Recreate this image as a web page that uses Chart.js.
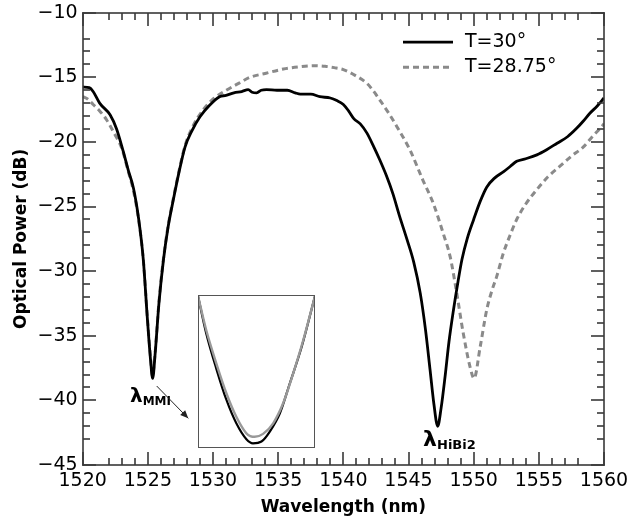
<!DOCTYPE html>
<html>
<head>
<meta charset="utf-8">
<script src="https://cdn.jsdelivr.net/npm/chart.js@4/dist/chart.umd.min.js"></script>
<style>
  html, body { margin: 0; padding: 0; background: #fff; }
  #wrap { position: relative; width: 630px; height: 527px; }
  #insetBox { position: absolute; left: 198px; top: 295px; width: 117px; height: 153px; }
</style>
</head>
<body>
<div id="wrap">
  <canvas id="main" width="630" height="527"></canvas>
  <div id="insetBox"><canvas id="inset" width="117" height="153"></canvas></div>
</div>
<script>
// ---- Spectrum at T = 30° (solid black)
const wavelength30 = [1520.0,1520.5,1520.8,1521.3,1522.1,1522.6,1523.1,1523.5,1523.9,1524.3,1524.65,1524.95,1525.2,1525.37,1525.55,1525.85,1526.2,1526.55,1526.95,1527.4,1527.85,1528.4,1529.0,1529.7,1530.5,1531.0,1531.6,1532.2,1532.7,1533.0,1533.35,1533.7,1534.1,1534.9,1535.7,1536.3,1536.7,1537.5,1538.2,1539.0,1539.5,1540.0,1540.4,1540.8,1541.3,1541.8,1542.3,1542.8,1543.3,1543.8,1544.3,1544.9,1545.4,1545.9,1546.3,1546.65,1546.95,1547.24,1547.5,1547.8,1548.1,1548.45,1548.8,1549.1,1549.5,1550.0,1550.5,1551.0,1551.6,1552.3,1552.8,1553.3,1554.0,1554.85,1555.6,1556.4,1557.2,1557.9,1558.4,1558.9,1559.5,1560.0];
const power30 = [-15.75,-15.8,-16.1,-17.0,-17.9,-19.0,-20.7,-22.2,-23.6,-26.0,-29.1,-33.5,-36.8,-38.3,-36.5,-32.5,-29.1,-26.6,-24.5,-22.3,-20.4,-19.1,-18.05,-17.2,-16.5,-16.4,-16.2,-16.1,-15.95,-16.15,-16.2,-16.0,-15.95,-16.0,-16.0,-16.2,-16.3,-16.3,-16.5,-16.6,-16.8,-17.1,-17.6,-18.2,-18.6,-19.3,-20.3,-21.4,-22.6,-24.0,-25.7,-27.6,-29.3,-31.7,-34.5,-37.6,-40.3,-42.0,-40.6,-38.2,-35.5,-33.0,-30.8,-29.1,-27.5,-26.0,-24.6,-23.5,-22.8,-22.3,-21.9,-21.5,-21.3,-21.0,-20.6,-20.1,-19.6,-18.95,-18.4,-17.8,-17.2,-16.6];

// ---- Spectrum at T = 28.75° (dashed grey)
const wavelength2875 = [1520.0,1520.4,1520.8,1521.3,1521.84,1522.4,1523.0,1523.5,1523.9,1524.3,1524.65,1524.95,1525.2,1525.35,1525.55,1525.85,1526.2,1526.55,1526.95,1527.4,1527.85,1528.4,1529.25,1530.1,1531.05,1532.0,1532.84,1534.0,1535.4,1536.5,1537.7,1538.6,1539.3,1540.0,1540.9,1541.8,1542.3,1542.8,1543.5,1544.1,1545.1,1546.1,1546.9,1547.67,1548.2,1548.7,1549.2,1549.72,1550.03,1550.5,1551.0,1551.4,1551.77,1552.28,1552.8,1553.3,1554.0,1554.84,1555.7,1556.6,1557.5,1558.4,1559.1,1559.7,1560.0];
const power2875 = [-16.5,-16.7,-17.1,-17.6,-18.3,-19.3,-20.5,-22.3,-23.8,-26.1,-29.1,-33.4,-36.6,-38.1,-36.4,-32.4,-29.0,-26.5,-24.4,-22.2,-20.3,-18.9,-17.5,-16.6,-15.98,-15.45,-15.0,-14.7,-14.36,-14.2,-14.1,-14.15,-14.25,-14.4,-14.85,-15.46,-16.05,-16.76,-17.8,-18.8,-20.6,-22.95,-24.75,-27.1,-28.9,-31.7,-34.8,-37.4,-38.3,-35.85,-33.0,-31.5,-30.4,-28.6,-27.2,-26.0,-24.8,-23.7,-22.7,-21.9,-21.1,-20.4,-19.6,-18.95,-18.6];

// ---- Close-up of the MMI dip (inset)
const insetWavelength30 = [1524.95,1525.006,1525.075,1525.144,1525.212,1525.281,1525.326,1525.384,1525.441,1525.510,1525.578,1525.659,1525.75];
const insetPower30 = [-35.817,-36.45,-37.05,-37.58,-37.98,-38.25,-38.32,-38.29,-38.12,-37.81,-37.30,-36.68,-35.817];
const insetWavelength2875 = [1524.95,1525.006,1525.075,1525.144,1525.212,1525.281,1525.338,1525.395,1525.464,1525.532,1525.601,1525.670,1525.75];
const insetPower2875 = [-35.817,-36.395,-36.96,-37.47,-37.87,-38.15,-38.21,-38.16,-37.98,-37.64,-37.13,-36.565,-35.817];

// ---- Axes
const xTicks = [1520,1525,1530,1535,1540,1545,1550,1555,1560];
const yTicks = [-45,-40,-35,-30,-25,-20,-15,-10];
const seriesLabels = ['T=30°','T=28.75°'];

const toPoints = (xs, ys) => xs.map((x, i) => ({ x, y: ys[i] }));
const minus = v => String(v).replace('-', '\u2212');
const FONT = "'DejaVu Sans', sans-serif";
const FRAME = '#3a3a3a';
const GREY = '#8a8a8a';
const LW = 1.6;

// Minor tick values: every unit, skipping the ones right next to the axis ends
const minorValues = (majors) => {
  const out = [];
  const lo = majors[0], hi = majors[majors.length - 1];
  for (let v = lo + 2; v <= hi - 2; v++) if (!majors.includes(v)) out.push(v);
  return out;
};

// Frame plus inward major/minor ticks on all four sides, drawn last
const frameTicks = {
  id: 'frameTicks',
  afterDraw(chart) {
    const ctx = chart.ctx;
    const a = chart.chartArea;
    const xs = chart.scales.x, ys = chart.scales.y;
    const L = Math.round(a.left), R = Math.round(a.right), T = Math.round(a.top), B = Math.round(a.bottom);
    const h = LW / 2;
    ctx.save();
    ctx.globalAlpha = 1;
    ctx.globalCompositeOperation = 'source-over';
    ctx.fillStyle = FRAME;
    ctx.fillRect(L - h, T - h, R - L + LW, LW);
    ctx.fillRect(L - h, B - h, R - L + LW, LW);
    ctx.fillRect(L - h, T - h, LW, B - T + LW);
    ctx.fillRect(R - h, T - h, LW, B - T + LW);
    const wlTick = (v, len) => {
      const px = Math.round(xs.getPixelForValue(v));
      ctx.fillRect(px - h, B - len, LW, len);
      ctx.fillRect(px - h, T, LW, len);
    };
    xTicks.forEach(v => wlTick(v, 13));
    minorValues(xTicks).forEach(v => wlTick(v, 7));
    const dbTick = (v, len) => {
      const py = Math.round(ys.getPixelForValue(v));
      ctx.fillRect(L, py - h, len, LW);
      ctx.fillRect(R - len, py - h, len, LW);
    };
    yTicks.forEach(v => dbTick(v, 13));
    minorValues(yTicks).forEach(v => dbTick(v, 7));
    ctx.restore();
  }
};

// Legend drawn inside the plot, top right
const innerLegend = {
  id: 'innerLegend',
  afterDatasetsDraw(chart) {
    const { ctx, chartArea: a } = chart;
    ctx.save();
    chart.data.datasets.forEach((ds, i) => {
      const yy = a.top + 29.5 + i * 25;
      ctx.beginPath();
      ctx.strokeStyle = ds.borderColor;
      ctx.lineWidth = ds.borderWidth;
      ctx.setLineDash(ds.borderDash || []);
      ctx.moveTo(a.right - 201, yy);
      ctx.lineTo(a.right - 151, yy);
      ctx.stroke();
      ctx.setLineDash([]);
      ctx.fillStyle = '#000';
      ctx.font = '19px ' + FONT;
      ctx.textBaseline = 'middle';
      ctx.textAlign = 'left';
      ctx.fillText(ds.label, a.right - 139, yy);
    });
    ctx.restore();
  }
};

// Dip labels and the arrow pointing to the inset
const dipLabels = {
  id: 'dipLabels',
  afterDatasetsDraw(chart) {
    const { ctx, scales: { x, y } } = chart;
    const label = (wl, p, sub, lsize, ssize) => {
      const px = x.getPixelForValue(wl), py = y.getPixelForValue(p);
      ctx.font = 'bold ' + lsize + 'px ' + FONT;
      ctx.textBaseline = 'alphabetic';
      ctx.textAlign = 'left';
      ctx.fillStyle = '#000';
      ctx.fillText('\u03bb', px, py);
      const w = ctx.measureText('\u03bb').width;
      ctx.font = 'bold ' + ssize + 'px ' + FONT;
      ctx.fillText(sub, px + w, py + 3);
    };
    ctx.save();
    label(1523.63, -40.1, 'MMI', 20, 12);
    label(1546.12, -43.55, 'HiBi2', 22, 13);
    const x0 = x.getPixelForValue(1525.68), y0 = y.getPixelForValue(-38.89);
    const x1 = x.getPixelForValue(1528.10), y1 = y.getPixelForValue(-41.39);
    ctx.strokeStyle = '#222';
    ctx.fillStyle = '#222';
    ctx.lineWidth = 1;
    ctx.beginPath(); ctx.moveTo(x0, y0); ctx.lineTo(x1, y1); ctx.stroke();
    const ang = Math.atan2(y1 - y0, x1 - x0), AL = 8, AH = 3.5;
    ctx.beginPath();
    ctx.moveTo(x1, y1);
    ctx.lineTo(x1 - AL * Math.cos(ang) + AH * Math.sin(ang), y1 - AL * Math.sin(ang) - AH * Math.cos(ang));
    ctx.lineTo(x1 - AL * Math.cos(ang) - AH * Math.sin(ang), y1 - AL * Math.sin(ang) + AH * Math.cos(ang));
    ctx.closePath(); ctx.fill();
    ctx.restore();
  }
};

new Chart(document.getElementById('main'), {
  type: 'line',
  data: {
    datasets: [
      { label: seriesLabels[0], data: toPoints(wavelength30, power30), borderColor: '#000', borderWidth: 2.8,
        pointRadius: 0, cubicInterpolationMode: 'monotone', order: 0 },
      { label: seriesLabels[1], data: toPoints(wavelength2875, power2875), borderColor: GREY, borderWidth: 3,
        borderDash: [6, 4], pointRadius: 0, cubicInterpolationMode: 'monotone', order: 1 }
    ]
  },
  options: {
    responsive: false,
    animation: false,
    devicePixelRatio: 1,
    layout: { padding: { left: 0, right: 26, top: 12.7, bottom: 0 } },
    plugins: { legend: { display: false }, tooltip: { enabled: false } },
    scales: {
      x: {
        type: 'linear', min: 1520, max: 1560,
        afterBuildTicks: s => { s.ticks = xTicks.map(v => ({ value: v })); },
        afterFit: s => { s.height = 62; s.paddingLeft = 0; s.paddingRight = 0; },
        grid: { display: false, drawTicks: false },
        border: { display: false },
        ticks: { color: '#000', padding: 5, maxRotation: 0, font: { family: FONT, size: 19 }, callback: minus },
        title: { display: true, text: 'Wavelength (nm)', color: '#000', padding: { top: 0, bottom: 9 },
                 font: { family: FONT, size: 17, weight: 'bold' } }
      },
      y: {
        type: 'linear', min: -45, max: -10,
        afterBuildTicks: s => { s.ticks = yTicks.map(v => ({ value: v })); },
        afterFit: s => { s.width = 82.7; s.paddingTop = 0; s.paddingBottom = 0; },
        grid: { display: false, drawTicks: false },
        border: { display: false },
        ticks: { color: '#000', padding: 5, font: { family: FONT, size: 19 }, callback: minus },
        title: { display: true, text: 'Optical Power (dB)', color: '#000', padding: { top: 11, bottom: 0 },
                 font: { family: FONT, size: 17, weight: 'bold' } }
      }
    }
  },
  plugins: [innerLegend, dipLabels, frameTicks]
});

// Inset: enlarged view of the MMI dip
const insetFrame = {
  id: 'insetFrame',
  afterDatasetsDraw(chart) {
    const { ctx, width, height } = chart;
    ctx.save();
    ctx.strokeStyle = '#555';
    ctx.lineWidth = 1;
    ctx.strokeRect(0.5, 0.5, width - 1, height - 1);
    ctx.restore();
  }
};

new Chart(document.getElementById('inset'), {
  type: 'line',
  data: {
    datasets: [
      { data: toPoints(insetWavelength30, insetPower30), borderColor: '#000', borderWidth: 2.2,
        pointRadius: 0, cubicInterpolationMode: 'monotone', order: 1 },
      { data: toPoints(insetWavelength2875, insetPower2875), borderColor: '#999', borderWidth: 2.4,
        pointRadius: 0, cubicInterpolationMode: 'monotone', order: 0 }
    ]
  },
  options: {
    responsive: false,
    animation: false,
    devicePixelRatio: 1,
    layout: { padding: 0 },
    plugins: { legend: { display: false }, tooltip: { enabled: false } },
    scales: {
      x: { type: 'linear', min: 1524.95, max: 1525.75, display: false },
      y: { type: 'linear', min: -38.4, max: -35.8, display: false }
    }
  },
  plugins: [insetFrame]
});
</script>
</body>
</html>
